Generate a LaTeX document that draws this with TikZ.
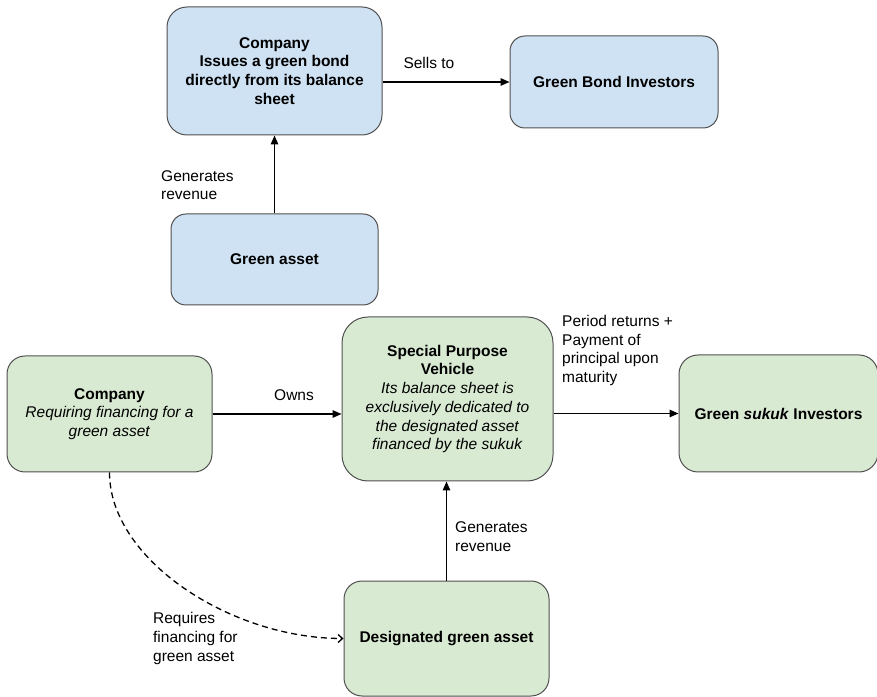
\documentclass[tikz,border=0pt]{standalone}
\usepackage{fontspec}
\setmainfont{Liberation Sans}
\usetikzlibrary{arrows.meta}
\usetikzlibrary{positioning}

\definecolor{bondblue}{HTML}{CFE2F3}
\definecolor{sukukgreen}{HTML}{D9EAD3}
\definecolor{edgegray}{HTML}{505050}

\tikzset{
  box/.style={draw=edgegray, line width=1pt, align=center, inner sep=0pt,
    font=\fontsize{15.5}{18.7}\selectfont},
  bluebox/.style={box, fill=bondblue, rounded corners=#1},
  greenbox/.style={box, fill=sukukgreen, rounded corners=#1},
  lbl/.style={align=left, inner sep=0pt, font=\fontsize{15.5}{18.7}\selectfont},
  >={Triangle[length=9pt,width=7.5pt]}
}

\begin{document}
\begin{tikzpicture}[x=1pt,y=1pt]
    \useasboundingbox (0,0) rectangle (877,696);

    % green bond
    \node[bluebox=20pt, minimum width=215pt, minimum height=128pt] (bond) at (274.5,625)
      {\textbf{Company}\\\textbf{Issues a green bond}\\\textbf{directly from its balance}\\\textbf{sheet}};
    \node[bluebox=15pt, minimum width=208pt, minimum height=92pt, right=127pt of bond, yshift=-11pt] (bondinv)
      {\textbf{Green Bond Investors}};
    \node[bluebox=15pt, minimum width=207pt, minimum height=91pt, below=78pt of bond] (asset)
      {\textbf{Green asset}};

    % green sukuk
    \node[greenbox=26pt, minimum width=211pt, minimum height=164pt] (spv) at (447.5,297)
      {\textbf{Special Purpose}\\\textbf{Vehicle}\\\textit{Its balance sheet is}\\\textit{exclusively dedicated to}\\\textit{the designated asset}\\\textit{financed by the sukuk}};
    \node[greenbox=18pt, minimum width=205pt, minimum height=116pt, left=129pt of spv, yshift=-15pt] (comp)
      {\textbf{Company}\\\textit{Requiring financing for a}\\\textit{green asset}};
    \node[greenbox=19pt, minimum width=199pt, minimum height=117pt, right=125pt of spv, yshift=-14.5pt] (sukinv)
      {\textbf{Green \textit{sukuk} Investors}};
    \node[greenbox=18pt, minimum width=205pt, minimum height=115pt, below=99pt of spv, xshift=-1pt] (dasset)
      {\textbf{Designated green asset}};

    \path[->, line width=1.4pt]
    (bond.east |- bondinv.west) edge node[lbl, anchor=west, pos=0.16, yshift=19pt] {Sells to} (bondinv.west)
    (asset.north) edge node[lbl, anchor=west, pos=0.365, xshift=-114pt] {Generates\\revenue} (bond.south)
    (comp.east) edge node[lbl, anchor=west, pos=0.473, yshift=19pt] {Owns} (comp.east -| spv.west)
    (spv.east |- sukinv.west) edge node[lbl, anchor=west, pos=0.064, yshift=63pt]
      {Period returns +\\Payment of\\principal upon\\maturity} (sukinv.west)
    (dasset.north) edge node[lbl, anchor=west, pos=0.44, xshift=8pt] {Generates\\revenue} (dasset.north |- spv.south)
    ;

    \draw[line width=1.3pt, dash pattern=on 6pt off 4pt, -{Straight Barb[length=4.5pt,width=8pt]}]
    (comp.south) to[out=-90, in=180, out distance=87pt, in distance=113pt]
      node[lbl, pos=1, anchor=west, xshift=-191pt] {Requires\\financing for\\green asset} (dasset.west);
\end{tikzpicture}
\end{document}
